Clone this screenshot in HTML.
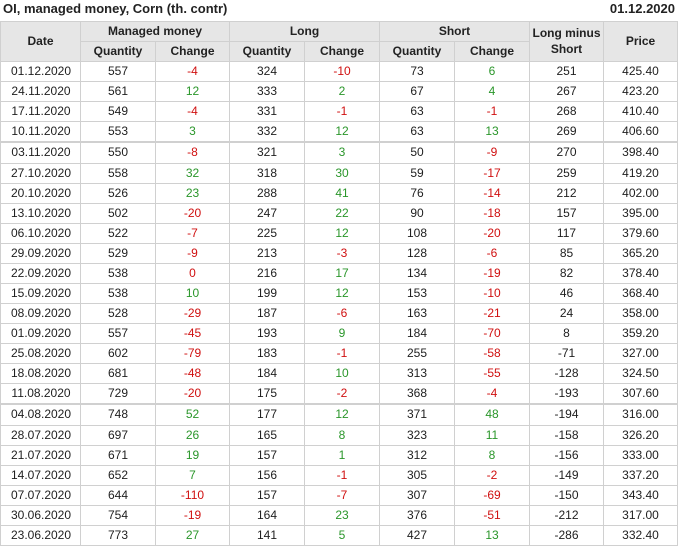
<!DOCTYPE html>
<html><head><meta charset="utf-8"><style>
html,body{margin:0;padding:0;background:#fff;}
body{width:680px;height:548px;position:relative;overflow:hidden;font-family:"Liberation Sans",Arial,sans-serif;color:#1e1e1e;}
.title{position:absolute;left:3px;top:0;height:18px;line-height:18px;font-size:13px;font-weight:bold;color:#222;}
.date{position:absolute;right:5px;top:0;height:18px;line-height:18px;font-size:13px;font-weight:bold;color:#222;}
.hbg{position:absolute;left:0;top:21px;width:678px;height:41px;background:#e6e6e6;}
.h{position:absolute;height:1px;background:#d0d0d0;}
.v{position:absolute;width:1px;background:#d0d0d0;}
.hd{position:absolute;font-size:12px;font-weight:bold;text-align:center;color:#222;}
.r{position:absolute;left:0;width:678px;height:19px;font-size:12px;}
.r span{position:absolute;top:0;height:19px;line-height:19px;text-align:center;}
.c0{left:1px;width:80px}.c1{left:81px;width:74px}.c2{left:156px;width:73px}.c3{left:230px;width:74px}.c4{left:305px;width:74px}.c5{left:380px;width:74px}.c6{left:455px;width:74px}.c7{left:530px;width:73px}.c8{left:604px;width:73px}
.r span.g{color:#2a962a}.r span.n{color:#d01010}
</style></head><body>
<div class="title">OI, managed money, Corn (th. contr)</div>
<div class="date">01.12.2020</div>
<div class="hbg"></div>

<!-- horizontal lines -->
<div class="h" style="left:0;top:21px;width:678px"></div>
<div class="h" style="left:80px;top:41px;width:449px"></div>
<div class="h" style="left:0;top:61px;width:678px"></div>
<div class="h" style="left:0;top:81px;width:678px"></div>
<div class="h" style="left:0;top:101px;width:678px"></div>
<div class="h" style="left:0;top:121px;width:678px"></div>
<div class="h" style="left:0;top:141px;width:678px;height:2px"></div>
<div class="h" style="left:0;top:163px;width:678px"></div>
<div class="h" style="left:0;top:183px;width:678px"></div>
<div class="h" style="left:0;top:203px;width:678px"></div>
<div class="h" style="left:0;top:223px;width:678px"></div>
<div class="h" style="left:0;top:243px;width:678px"></div>
<div class="h" style="left:0;top:263px;width:678px"></div>
<div class="h" style="left:0;top:283px;width:678px"></div>
<div class="h" style="left:0;top:303px;width:678px"></div>
<div class="h" style="left:0;top:323px;width:678px"></div>
<div class="h" style="left:0;top:343px;width:678px"></div>
<div class="h" style="left:0;top:363px;width:678px"></div>
<div class="h" style="left:0;top:383px;width:678px"></div>
<div class="h" style="left:0;top:403px;width:678px;height:2px"></div>
<div class="h" style="left:0;top:425px;width:678px"></div>
<div class="h" style="left:0;top:445px;width:678px"></div>
<div class="h" style="left:0;top:465px;width:678px"></div>
<div class="h" style="left:0;top:485px;width:678px"></div>
<div class="h" style="left:0;top:505px;width:678px"></div>
<div class="h" style="left:0;top:525px;width:678px"></div>
<div class="h" style="left:0;top:545px;width:678px"></div>

<!-- vertical lines -->
<div class="v" style="left:0;top:21px;height:525px"></div>
<div class="v" style="left:80px;top:21px;height:525px"></div>
<div class="v" style="left:155px;top:41px;height:505px"></div>
<div class="v" style="left:229px;top:21px;height:525px"></div>
<div class="v" style="left:304px;top:41px;height:505px"></div>
<div class="v" style="left:379px;top:21px;height:525px"></div>
<div class="v" style="left:454px;top:41px;height:505px"></div>
<div class="v" style="left:529px;top:21px;height:525px"></div>
<div class="v" style="left:603px;top:21px;height:525px"></div>
<div class="v" style="left:677px;top:21px;height:525px"></div>

<!-- header text -->
<div class="hd" style="left:1px;width:79px;top:22px;height:39px;line-height:39px">Date</div>
<div class="hd" style="left:81px;width:148px;top:22px;height:19px;line-height:19px">Managed money</div>
<div class="hd" style="left:230px;width:149px;top:22px;height:19px;line-height:19px">Long</div>
<div class="hd" style="left:380px;width:149px;top:22px;height:19px;line-height:19px">Short</div>
<div class="hd" style="left:81px;width:74px;top:42px;height:19px;line-height:19px">Quantity</div>
<div class="hd" style="left:156px;width:73px;top:42px;height:19px;line-height:19px">Change</div>
<div class="hd" style="left:230px;width:74px;top:42px;height:19px;line-height:19px">Quantity</div>
<div class="hd" style="left:305px;width:74px;top:42px;height:19px;line-height:19px">Change</div>
<div class="hd" style="left:380px;width:74px;top:42px;height:19px;line-height:19px">Quantity</div>
<div class="hd" style="left:455px;width:74px;top:42px;height:19px;line-height:19px">Change</div>
<div class="hd" style="left:530px;width:73px;top:25px;height:32px;line-height:16px">Long minus<br>Short</div>
<div class="hd" style="left:604px;width:73px;top:22px;height:39px;line-height:39px">Price</div>

<!-- rows -->
<div class="r" style="top:62px"><span class="c0">01.12.2020</span><span class="c1">557</span><span class="c2 n">-4</span><span class="c3">324</span><span class="c4 n">-10</span><span class="c5">73</span><span class="c6 g">6</span><span class="c7">251</span><span class="c8">425.40</span></div>
<div class="r" style="top:82px"><span class="c0">24.11.2020</span><span class="c1">561</span><span class="c2 g">12</span><span class="c3">333</span><span class="c4 g">2</span><span class="c5">67</span><span class="c6 g">4</span><span class="c7">267</span><span class="c8">423.20</span></div>
<div class="r" style="top:102px"><span class="c0">17.11.2020</span><span class="c1">549</span><span class="c2 n">-4</span><span class="c3">331</span><span class="c4 n">-1</span><span class="c5">63</span><span class="c6 n">-1</span><span class="c7">268</span><span class="c8">410.40</span></div>
<div class="r" style="top:122px"><span class="c0">10.11.2020</span><span class="c1">553</span><span class="c2 g">3</span><span class="c3">332</span><span class="c4 g">12</span><span class="c5">63</span><span class="c6 g">13</span><span class="c7">269</span><span class="c8">406.60</span></div>
<div class="r" style="top:143px;height:20px"><span class="c0">03.11.2020</span><span class="c1">550</span><span class="c2 n">-8</span><span class="c3">321</span><span class="c4 g">3</span><span class="c5">50</span><span class="c6 n">-9</span><span class="c7">270</span><span class="c8">398.40</span></div>
<div class="r" style="top:164px"><span class="c0">27.10.2020</span><span class="c1">558</span><span class="c2 g">32</span><span class="c3">318</span><span class="c4 g">30</span><span class="c5">59</span><span class="c6 n">-17</span><span class="c7">259</span><span class="c8">419.20</span></div>
<div class="r" style="top:184px"><span class="c0">20.10.2020</span><span class="c1">526</span><span class="c2 g">23</span><span class="c3">288</span><span class="c4 g">41</span><span class="c5">76</span><span class="c6 n">-14</span><span class="c7">212</span><span class="c8">402.00</span></div>
<div class="r" style="top:204px"><span class="c0">13.10.2020</span><span class="c1">502</span><span class="c2 n">-20</span><span class="c3">247</span><span class="c4 g">22</span><span class="c5">90</span><span class="c6 n">-18</span><span class="c7">157</span><span class="c8">395.00</span></div>
<div class="r" style="top:224px"><span class="c0">06.10.2020</span><span class="c1">522</span><span class="c2 n">-7</span><span class="c3">225</span><span class="c4 g">12</span><span class="c5">108</span><span class="c6 n">-20</span><span class="c7">117</span><span class="c8">379.60</span></div>
<div class="r" style="top:244px"><span class="c0">29.09.2020</span><span class="c1">529</span><span class="c2 n">-9</span><span class="c3">213</span><span class="c4 n">-3</span><span class="c5">128</span><span class="c6 n">-6</span><span class="c7">85</span><span class="c8">365.20</span></div>
<div class="r" style="top:264px"><span class="c0">22.09.2020</span><span class="c1">538</span><span class="c2 n">0</span><span class="c3">216</span><span class="c4 g">17</span><span class="c5">134</span><span class="c6 n">-19</span><span class="c7">82</span><span class="c8">378.40</span></div>
<div class="r" style="top:284px"><span class="c0">15.09.2020</span><span class="c1">538</span><span class="c2 g">10</span><span class="c3">199</span><span class="c4 g">12</span><span class="c5">153</span><span class="c6 n">-10</span><span class="c7">46</span><span class="c8">368.40</span></div>
<div class="r" style="top:304px"><span class="c0">08.09.2020</span><span class="c1">528</span><span class="c2 n">-29</span><span class="c3">187</span><span class="c4 n">-6</span><span class="c5">163</span><span class="c6 n">-21</span><span class="c7">24</span><span class="c8">358.00</span></div>
<div class="r" style="top:324px"><span class="c0">01.09.2020</span><span class="c1">557</span><span class="c2 n">-45</span><span class="c3">193</span><span class="c4 g">9</span><span class="c5">184</span><span class="c6 n">-70</span><span class="c7">8</span><span class="c8">359.20</span></div>
<div class="r" style="top:344px"><span class="c0">25.08.2020</span><span class="c1">602</span><span class="c2 n">-79</span><span class="c3">183</span><span class="c4 n">-1</span><span class="c5">255</span><span class="c6 n">-58</span><span class="c7">-71</span><span class="c8">327.00</span></div>
<div class="r" style="top:364px"><span class="c0">18.08.2020</span><span class="c1">681</span><span class="c2 n">-48</span><span class="c3">184</span><span class="c4 g">10</span><span class="c5">313</span><span class="c6 n">-55</span><span class="c7">-128</span><span class="c8">324.50</span></div>
<div class="r" style="top:384px"><span class="c0">11.08.2020</span><span class="c1">729</span><span class="c2 n">-20</span><span class="c3">175</span><span class="c4 n">-2</span><span class="c5">368</span><span class="c6 n">-4</span><span class="c7">-193</span><span class="c8">307.60</span></div>
<div class="r" style="top:405px;height:20px"><span class="c0">04.08.2020</span><span class="c1">748</span><span class="c2 g">52</span><span class="c3">177</span><span class="c4 g">12</span><span class="c5">371</span><span class="c6 g">48</span><span class="c7">-194</span><span class="c8">316.00</span></div>
<div class="r" style="top:426px"><span class="c0">28.07.2020</span><span class="c1">697</span><span class="c2 g">26</span><span class="c3">165</span><span class="c4 g">8</span><span class="c5">323</span><span class="c6 g">11</span><span class="c7">-158</span><span class="c8">326.20</span></div>
<div class="r" style="top:446px"><span class="c0">21.07.2020</span><span class="c1">671</span><span class="c2 g">19</span><span class="c3">157</span><span class="c4 g">1</span><span class="c5">312</span><span class="c6 g">8</span><span class="c7">-156</span><span class="c8">333.00</span></div>
<div class="r" style="top:466px"><span class="c0">14.07.2020</span><span class="c1">652</span><span class="c2 g">7</span><span class="c3">156</span><span class="c4 n">-1</span><span class="c5">305</span><span class="c6 n">-2</span><span class="c7">-149</span><span class="c8">337.20</span></div>
<div class="r" style="top:486px"><span class="c0">07.07.2020</span><span class="c1">644</span><span class="c2 n">-110</span><span class="c3">157</span><span class="c4 n">-7</span><span class="c5">307</span><span class="c6 n">-69</span><span class="c7">-150</span><span class="c8">343.40</span></div>
<div class="r" style="top:506px"><span class="c0">30.06.2020</span><span class="c1">754</span><span class="c2 n">-19</span><span class="c3">164</span><span class="c4 g">23</span><span class="c5">376</span><span class="c6 n">-51</span><span class="c7">-212</span><span class="c8">317.00</span></div>
<div class="r" style="top:526px"><span class="c0">23.06.2020</span><span class="c1">773</span><span class="c2 g">27</span><span class="c3">141</span><span class="c4 g">5</span><span class="c5">427</span><span class="c6 g">13</span><span class="c7">-286</span><span class="c8">332.40</span></div>
</body></html>
